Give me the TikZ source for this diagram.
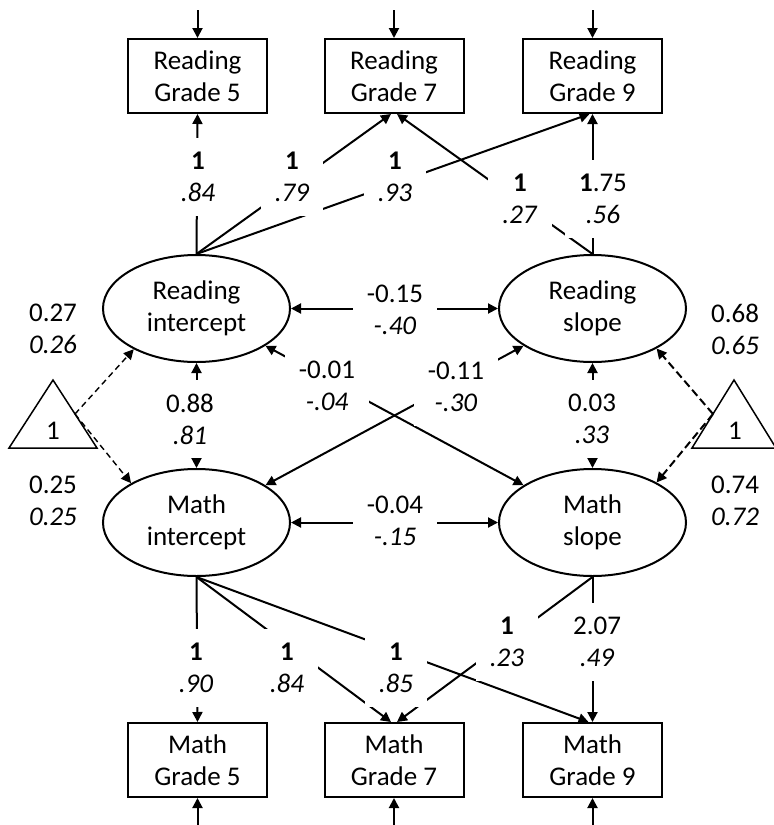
\documentclass[tikz,border=0pt]{standalone}
\usepackage{fontspec}
\setmainfont{Carlito}
\usetikzlibrary{arrows.meta,shapes.geometric}
\begin{document}
\begin{tikzpicture}[x=1pt,y=-1pt,
  every node/.style={font=\fontsize{27}{32}\selectfont},
  obs/.style={draw, line width=2pt, rectangle, minimum width=139pt, minimum height=74pt, inner sep=0pt, align=center},
  lat/.style={draw, line width=2pt, ellipse, minimum width=187pt, minimum height=107pt, inner sep=0pt, align=center},
  arr/.style={line width=2pt, -{Triangle[length=10pt,width=10pt]}},
  dbl/.style={line width=2pt, {Triangle[length=10pt,width=10pt]}-{Triangle[length=10pt,width=10pt]}},
  dshl/.style={line width=1.4pt, dash pattern=on 6pt off 4pt, -{Triangle[length=10pt,width=10pt]}},
  dshr/.style={line width=2pt, dash pattern=on 8pt off 4pt, -{Triangle[length=10pt,width=10pt]}},
  tri/.style={line width=1.5pt, line join=miter},
  lbl/.style={fill=white, align=center, inner xsep=14pt, inner ysep=14pt},
  var/.style={align=center, inner sep=0pt}]
\useasboundingbox (0,0) rectangle (774,825);

% observed variables
\node[obs] (rg5) at (197.5,76) {Reading\\Grade 5};
\node[obs] (rg7) at (394,76) {Reading\\Grade 7};
\node[obs] (rg9) at (592.5,76) {Reading\\Grade 9};
\node[obs] (mg5) at (197.5,760) {Math\\Grade 5};
\node[obs] (mg7) at (394,760) {Math\\Grade 7};
\node[obs] (mg9) at (592.5,760) {Math\\Grade 9};

% latent variables
\node[lat] (ri) at (196.5,308.5) {Reading\\intercept};
\node[lat] (rs) at (592.5,308.5) {Reading\\slope};
\node[lat] (mi) at (196.5,522.5) {Math\\intercept};
\node[lat] (ms) at (592.5,522.5) {Math\\slope};

% triangles (constants)
\draw[tri] (53,380) -- (97,448) -- (9,448) -- cycle;
\node (lt) at (53,431) {1};
\coordinate (lto) at (75,414);
\draw[tri] (734,380) -- (776,448) -- (692,448) -- cycle;
\node (rt) at (735,431) {1};
\coordinate (rto) at (713,414);

% residual arrows
\coordinate (t5) at (197.5,10);
\coordinate (t7) at (394,10);
\coordinate (t9) at (592.5,10);
\coordinate (b5) at (197.5,825);
\coordinate (b7) at (394,825);
\coordinate (b9) at (592.5,825);
\draw[arr] (t5) -- (rg5);
\draw[arr] (t7) -- (rg7);
\draw[arr] (t9) -- (rg9);
\draw[arr] (b5) -- (mg5);
\draw[arr] (b7) -- (mg7);
\draw[arr] (b9) -- (mg9);

% loadings reading
\draw[arr] (ri.north) -- (rg5.south);
\draw[arr] (ri.north) -- ([xshift=-3pt]rg7.south);
\draw[arr] (ri.north) -- ([xshift=-3pt]rg9.south);
\draw[arr] (rs.north) -- ([xshift=3pt]rg7.south);
\draw[arr] (rs.north) -- (rg9.south);

% loadings math
\draw[arr] (mi.south) -- (mg5.north);
\draw[arr] (mi.south) -- ([xshift=-3pt]mg7.north);
\draw[arr] (mi.south) -- ([xshift=-4pt]mg9.north);
\draw[arr] (ms.south) -- ([xshift=3pt]mg7.north);
\draw[arr] (ms.south) -- (mg9.north);

% covariances
\draw[dbl] (ri.east) -- (rs.west);
\draw[dbl] (mi.east) -- (ms.west);
\draw[dbl] (ri.south) -- (mi.north);
\draw[dbl] (rs.south) -- (ms.north);
\draw[dbl] (ri) -- (ms);
\draw[dbl] (mi) -- (rs);

% means
\draw[dshl] (lto) -- (ri.213);
\draw[dshl] (lto) -- (mi.149);
\draw[dshr] (rto) -- (rs.-32);
\draw[dshr] (rto) -- (ms.32);

% path labels
\node[lbl] (l1) at (198,177) {\textbf{1}\\\textit{.84}};
\node[lbl] (l2) at (292,177) {\textbf{1}\\\textit{.79}};
\node[lbl] (l3) at (395,177) {\textbf{1}\\\textit{.93}};
\node[lbl] (l4) at (520,199) {\textbf{1}\\\textit{.27}};
\node[lbl] (l5) at (603,199) {\textbf{1}.75\\\textit{.56}};
\node[lbl] (l6) at (395,310) {-0.15\\\textit{-.40}};
\node[lbl] (l7) at (327,386) {-0.01\\\textit{-.04}};
\node[lbl] (l8) at (456,387) {-0.11\\\textit{-.30}};
\node[lbl] (l9) at (190,419) {0.88\\\textit{.81}};
\node[lbl] (l10) at (592,419) {0.03\\\textit{.33}};
\node[lbl] (l11) at (395,521) {-0.04\\\textit{-.15}};
\node[lbl] (l12) at (196,668) {\textbf{1}\\\textit{.90}};
\node[lbl] (l13) at (287,668) {\textbf{1}\\\textit{.84}};
\node[lbl] (l14) at (396,668) {\textbf{1}\\\textit{.85}};
\node[lbl] (l15) at (507,642) {\textbf{1}\\\textit{.23}};
\node[lbl] (l16) at (597,642) {2.07\\\textit{.49}};

% variance / mean labels
\node[var] (v1) at (53,329) {0.27\\\textit{0.26}};
\node[var] (v2) at (53,501) {0.25\\\textit{0.25}};
\node[var] (v3) at (735,329) {0.68\\\textit{0.65}};
\node[var] (v4) at (735,501) {0.74\\\textit{0.72}};
\end{tikzpicture}
\end{document}
